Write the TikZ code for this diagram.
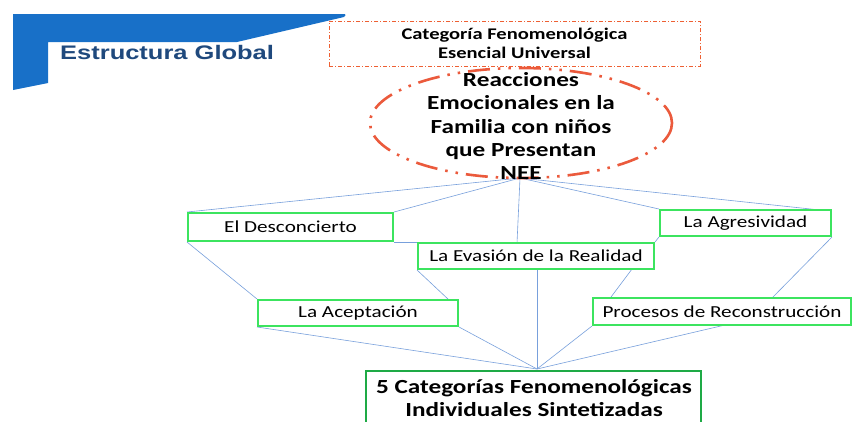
\documentclass[tikz,border=0pt]{standalone}
\usepackage{fontspec}
\setmainfont{Carlito}[FakeStretch=1.26]
\newfontfamily\hdrfont{Liberation Sans}[FakeStretch=1.3]
\usetikzlibrary{backgrounds}
\definecolor{boxgreen}{RGB}{60,228,95}
\definecolor{darkgreen}{RGB}{30,170,70}
\definecolor{linkblue}{RGB}{120,160,220}
\definecolor{hdrblue}{RGB}{24,112,200}
\definecolor{hdrtext}{RGB}{31,73,125}
\definecolor{ellred}{RGB}{235,90,60}
\tikzset{
  catbox/.style={draw=boxgreen, line width=2pt, fill=white, inner sep=0pt,
    font=\fontsize{16.8}{19}\selectfont, text=black},
  link/.style={draw=linkblue, line width=0.6pt},
  fintext/.style={anchor=base, inner sep=0pt, font=\bfseries\fontsize{20}{24}\selectfont},
}
\begin{document}
\begin{tikzpicture}[x=1pt,y=-1pt]
\useasboundingbox (0,0) rectangle (853,421);
\clip (0,0) rectangle (853,421);
% header shape
\fill[hdrblue] (13,14) -- (345,14) to[out=0,in=20] (344,17) -- (237,42) -- (48,42) -- (48,83) -- (13,90) -- cycle;
\node[font=\hdrfont\bfseries\fontsize{19.6}{22}\selectfont, text=hdrtext, anchor=west, inner sep=0pt] (hdr) at (60,52) {Estructura Global};
% dashed rectangle
\node[draw=ellred!85!orange, line width=0.8pt, dash pattern=on 4pt off 2pt on 1pt off 2pt,
  minimum width=371pt, minimum height=45pt, inner sep=0pt, align=center,
  font=\bfseries\fontsize{16.3}{19}\selectfont] (esen) at (514.5,43.5)
  {Categoría Fenomenológica\\Esencial Universal};
% ellipse
\draw[ellred, line width=2.6pt, dash pattern=on 22pt off 8pt on 2.5pt off 8pt on 2.5pt off 8pt]
  (521,123) ellipse [x radius=151, y radius=55];
\node[align=center, font=\bfseries\fontsize{20}{23.2}\selectfont] (main) at (521,126)
  {Reacciones\\Emocionales en la\\Familia con niños\\que Presentan\\NEE};
% boxes
\node[catbox, minimum width=205pt, minimum height=28pt] (desc) at (290.5,227) {El Desconcierto};
\node[catbox, minimum width=236pt, minimum height=26pt] (eva) at (536,256) {La Evasión de la Realidad};
\node[catbox, minimum width=171pt, minimum height=26pt] (agr) at (745.5,223) {La Agresividad};
\node[catbox, minimum width=200pt, minimum height=26pt] (acep) at (358,313) {La Aceptación};
\node[catbox, minimum width=258pt, minimum height=27pt] (proc) at (722,311.5) {Procesos de Reconstrucción};
\node[draw=darkgreen, line width=2pt, fill=white, minimum width=335pt, minimum height=70pt,
  inner sep=0pt, anchor=north] (fin) at (533.5,370) {};
\node[fintext] (fina) at (534,393) {5 Categorías Fenomenológicas};
\node[fintext] (finb) at (534,416) {Individuales Sintetizadas};
% connector points
\coordinate (apex) at (520,178);
\coordinate (bot) at (537,369);
\coordinate (evatop) at (517,243);
\coordinate (evabot) at (537,269);
\coordinate (evabr) at (632,269);
\coordinate (procl) at (593,321);
\coordinate (proctop) at (772,298);
\coordinate (procbot) at (725,325);
\coordinate (agrtr) at (820,210);
\coordinate (aceptr) at (449,300);
% connectors
\begin{pgfonlayer}{background}
\fill[white] (0,0) rectangle (853,421);
\draw[link] (apex) -- (desc.north west);
\draw[link] (apex) -- (desc.north east);
\draw[link] (apex) -- (evatop);
\draw[link] (apex) -- (agr.north west);
\draw[link] (apex) -- (agrtr);
\draw[link] (desc.south east) -- (eva.north west);
\draw[link] (agr.south west) -- (eva.north east);
\draw[link] (desc.south west) -- (acep.north west);
\draw[link] (eva.south west) -- (aceptr);
\draw[link] (evabot) -- (bot);
\draw[link] (evabr) -- (procl);
\draw[link] (proc.south west) -- (bot);
\draw[link] (agr.south east) -- (proctop);
\draw[link] (procbot) -- (bot);
\draw[link] (acep.south west) -- (bot);
\draw[link] (acep.south east) -- (bot);
\end{pgfonlayer}
\end{tikzpicture}
\end{document}
